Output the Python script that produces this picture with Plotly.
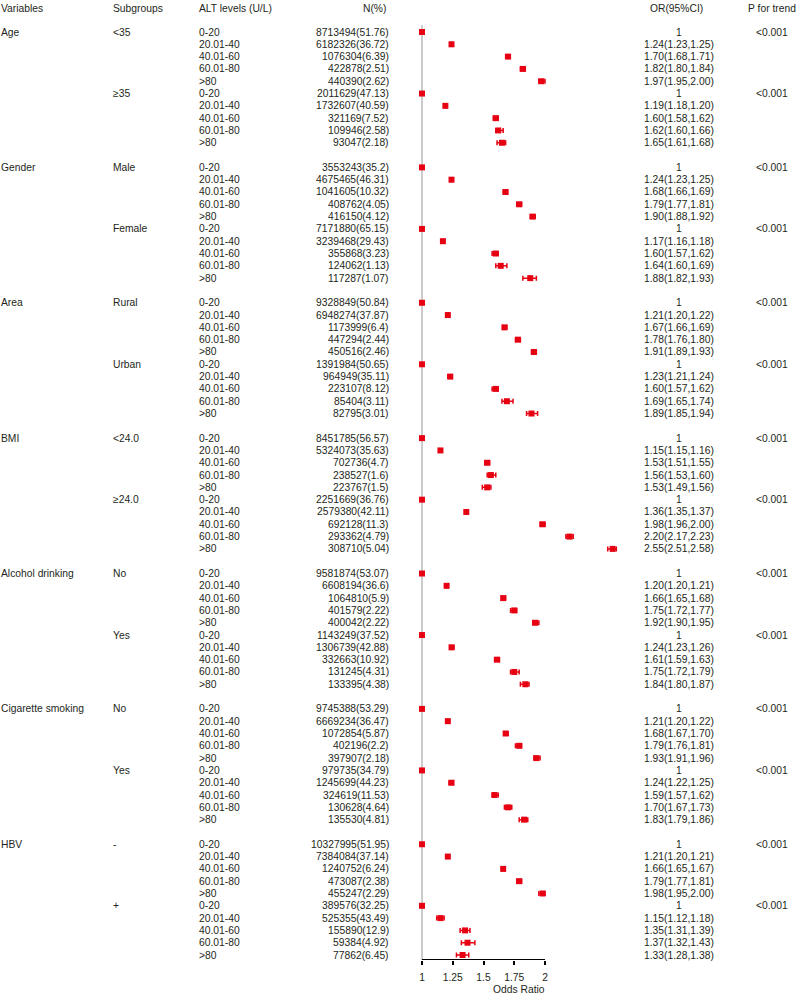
import plotly.graph_objects as go

# ---------------- data ----------------
variables = ["Age", "Gender", "Area", "BMI", "Alcohol drinking", "Cigarette smoking", "HBV"]
subgroups = [["<35", "≥35"], ["Male", "Female"], ["Rural", "Urban"], ["<24.0", "≥24.0"],
             ["No", "Yes"], ["No", "Yes"], ["-", "+"]]
alt_levels = ["0-20", "20.01-40", "40.01-60", "60.01-80", ">80"]

n_text = [
    "8713494(51.76)", "6182326(36.72)", "1076304(6.39)", "422878(2.51)", "440390(2.62)",
    "2011629(47.13)", "1732607(40.59)", "321169(7.52)", "109946(2.58)", "93047(2.18)",
    "3553243(35.2)", "4675465(46.31)", "1041605(10.32)", "408762(4.05)", "416150(4.12)",
    "7171880(65.15)", "3239468(29.43)", "355868(3.23)", "124062(1.13)", "117287(1.07)",
    "9328849(50.84)", "6948274(37.87)", "1173999(6.4)", "447294(2.44)", "450516(2.46)",
    "1391984(50.65)", "964949(35.11)", "223107(8.12)", "85404(3.11)", "82795(3.01)",
    "8451785(56.57)", "5324073(35.63)", "702736(4.7)", "238527(1.6)", "223767(1.5)",
    "2251669(36.76)", "2579380(42.11)", "692128(11.3)", "293362(4.79)", "308710(5.04)",
    "9581874(53.07)", "6608194(36.6)", "1064810(5.9)", "401579(2.22)", "400042(2.22)",
    "1143249(37.52)", "1306739(42.88)", "332663(10.92)", "131245(4.31)", "133395(4.38)",
    "9745388(53.29)", "6669234(36.47)", "1072854(5.87)", "402196(2.2)", "397907(2.18)",
    "979735(34.79)", "1245699(44.23)", "324619(11.53)", "130628(4.64)", "135530(4.81)",
    "10327995(51.95)", "7384084(37.14)", "1240752(6.24)", "473087(2.38)", "455247(2.29)",
    "389576(32.25)", "525355(43.49)", "155890(12.9)", "59384(4.92)", "77862(6.45)",
]
or_est = [
    1, 1.24, 1.70, 1.82, 1.97,   1, 1.19, 1.60, 1.62, 1.65,
    1, 1.24, 1.68, 1.79, 1.90,   1, 1.17, 1.60, 1.64, 1.88,
    1, 1.21, 1.67, 1.78, 1.91,   1, 1.23, 1.60, 1.69, 1.89,
    1, 1.15, 1.53, 1.56, 1.53,   1, 1.36, 1.98, 2.20, 2.55,
    1, 1.20, 1.66, 1.75, 1.92,   1, 1.24, 1.61, 1.75, 1.84,
    1, 1.21, 1.68, 1.79, 1.93,   1, 1.24, 1.59, 1.70, 1.83,
    1, 1.21, 1.66, 1.79, 1.98,   1, 1.15, 1.35, 1.37, 1.33,
]
or_lo = [
    1, 1.23, 1.68, 1.80, 1.95,   1, 1.18, 1.58, 1.60, 1.61,
    1, 1.23, 1.66, 1.77, 1.88,   1, 1.16, 1.57, 1.60, 1.82,
    1, 1.20, 1.66, 1.76, 1.89,   1, 1.21, 1.57, 1.65, 1.85,
    1, 1.15, 1.51, 1.53, 1.49,   1, 1.35, 1.96, 2.17, 2.51,
    1, 1.20, 1.65, 1.72, 1.90,   1, 1.23, 1.59, 1.72, 1.80,
    1, 1.20, 1.67, 1.76, 1.91,   1, 1.22, 1.57, 1.67, 1.79,
    1, 1.20, 1.65, 1.77, 1.95,   1, 1.12, 1.31, 1.32, 1.28,
]
or_hi = [
    1, 1.25, 1.71, 1.84, 2.00,   1, 1.20, 1.62, 1.66, 1.68,
    1, 1.25, 1.69, 1.81, 1.92,   1, 1.18, 1.62, 1.69, 1.93,
    1, 1.22, 1.69, 1.80, 1.93,   1, 1.24, 1.62, 1.74, 1.94,
    1, 1.16, 1.55, 1.60, 1.56,   1, 1.37, 2.00, 2.23, 2.58,
    1, 1.21, 1.68, 1.77, 1.95,   1, 1.26, 1.63, 1.79, 1.87,
    1, 1.22, 1.70, 1.81, 1.96,   1, 1.25, 1.62, 1.73, 1.86,
    1, 1.21, 1.67, 1.81, 2.00,   1, 1.18, 1.39, 1.43, 1.38,
]
p_trend = ["<0.001"] * 14
x_ticks = [1, 1.25, 1.5, 1.75, 2]
headers = ["Variables", "Subgroups", "ALT levels (U/L)", "N(%)", "OR(95%CI)", "P for trend"]

# ---------------- layout geometry (pixels) ----------------
W, H = 800, 996
ROW0, ROWH = 32, 12.307          # y pixel of first data row, row spacing
AX_BOTTOM = 960                  # pixel y of the x-axis line
X1PX, PXU = 422, 123             # pixel of OR=1, pixels per unit
DOM_PX = (400, 640)
FONT = "Liberation Sans"
FS = 10.3
TXT = "#231f20"
RED = "#e60012"

def px2paper_x(px):
    return px / W

row_idx = []
for g in range(len(variables)):
    for s in range(2):
        for k in range(5):
            row_idx.append(g * 11 + s * 5 + k)

y_top = (0 - ROW0) / ROWH
y_bot = (AX_BOTTOM - ROW0) / ROWH

fig = go.Figure()

ref_x = [e for e in or_est if e == 1]
ref_y = [r for r, e in zip(row_idx, or_est) if e == 1]
est_x = [e for e in or_est if e != 1]
est_y = [r for r, e in zip(row_idx, or_est) if e != 1]
plus = [h - e for e, h in zip(or_est, or_hi) if e != 1]
minus = [e - l for e, l in zip(or_est, or_lo) if e != 1]

fig.add_trace(go.Scatter(
    x=est_x, y=est_y, mode="markers",
    marker=dict(symbol="square", size=6, color=RED),
    error_x=dict(type="data", symmetric=False, array=plus, arrayminus=minus,
                 color=RED, thickness=1.5, width=2.5),
    hoverinfo="skip", showlegend=False))
fig.add_trace(go.Scatter(
    x=ref_x, y=ref_y, mode="markers",
    marker=dict(symbol="square", size=6, color=RED),
    hoverinfo="skip", showlegend=False))

ann = []
def add_text(px_x, row, text, anchor):
    ann.append(dict(x=px2paper_x(px_x), xref="paper", y=row, yref="y", text=text,
                    showarrow=False, xanchor=anchor, yanchor="middle", borderpad=0,
                    font=dict(family=FONT, size=FS, color=TXT)))

hdr_row = (8 - ROW0) / ROWH
add_text(0, hdr_row, headers[0], "left")
add_text(112, hdr_row, headers[1], "left")
add_text(198, hdr_row, headers[2], "left")
add_text(387, hdr_row, headers[3], "right")
add_text(676, hdr_row, headers[4], "center")
add_text(772, hdr_row, headers[5], "center")

i = 0
p_i = 0
for g, var in enumerate(variables):
    add_text(0, g * 11, var, "left")
    for s in range(2):
        base = g * 11 + s * 5
        add_text(112, base, subgroups[g][s], "left")
        add_text(772, base, p_trend[p_i], "center")
        p_i += 1
        for k in range(5):
            r = row_idx[i]
            add_text(198, r, alt_levels[k], "left")
            add_text(390, r, n_text[i], "right")
            if or_est[i] == 1:
                ort = "1"
            else:
                ort = f"{or_est[i]:.2f}({or_lo[i]:.2f},{or_hi[i]:.2f})"
            add_text(679, r, ort, "center")
            i += 1

ann.append(dict(x=px2paper_x(519), xref="paper", y=0, yref="paper",
                text="Odds Ratio", showarrow=False, xanchor="center", yanchor="bottom",
                borderpad=0, font=dict(family=FONT, size=FS, color=TXT)))

shapes = [
    dict(type="line", xref="x", yref="y", x0=1, x1=1, y0=(25 - ROW0) / ROWH, y1=y_bot,
         line=dict(color="#cccccc", width=2), layer="below"),
    dict(type="line", xref="x", yref="y", x0=1, x1=2, y0=y_bot, y1=y_bot,
         line=dict(color="black", width=2)),
]

x_range = [1 + (DOM_PX[0] - X1PX) / PXU, 1 + (DOM_PX[1] - X1PX) / PXU]

fig.update_layout(
    width=W, height=H,
    margin=dict(l=0, r=0, t=0, b=0),
    paper_bgcolor="white", plot_bgcolor="rgba(0,0,0,0)",
    xaxis=dict(domain=[DOM_PX[0] / W, DOM_PX[1] / W], range=x_range,
               showgrid=False, zeroline=False, showline=False,
               tickmode="array", tickvals=x_ticks, ticktext=[f"{t:g}" for t in x_ticks],
               ticks="outside", ticklen=4, tickwidth=1.5, tickcolor="black",
               ticklabelstandoff=4,
               tickfont=dict(family=FONT, size=FS, color=TXT),
               anchor="y", fixedrange=True),
    yaxis=dict(domain=[1 - AX_BOTTOM / H, 1], range=[y_bot, y_top],
               showgrid=False, zeroline=False, showline=False, showticklabels=False,
               ticks="", fixedrange=True),
    annotations=ann, shapes=shapes,
)

fig.write_html("out.html", config={"displayModeBar": False},
               post_script="document.body.style.margin='0';document.body.style.overflow='hidden';")
